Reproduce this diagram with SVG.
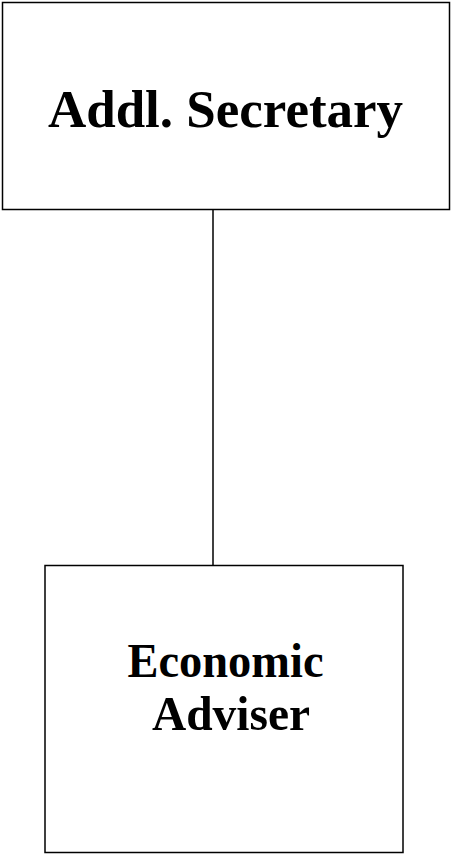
<svg xmlns="http://www.w3.org/2000/svg" width="452" height="855" viewBox="0 0 452 855">
<style>
.box{fill:#fff;stroke:#000;stroke-width:1.5}
.lbl{font-family:"Liberation Serif","Times New Roman",serif;font-weight:bold;fill:#000;text-anchor:middle}
.conn{stroke:#000;stroke-width:1.5;fill:none}
</style>
<rect width="452" height="855" fill="#fff"/>
<g id="connectors">
<line class="conn" x1="213" y1="209.5" x2="213" y2="565.5"/>
</g>
<g id="addl-secretary">
<rect class="box" x="2.5" y="2.5" width="447" height="207"/>
<text class="lbl" x="225.5" y="127" font-size="53">Addl. Secretary</text>
</g>
<g id="economic-adviser">
<rect class="box" x="45" y="565.5" width="358" height="287"/>
<text class="lbl" x="225.5" y="677" font-size="49" textLength="196" lengthAdjust="spacingAndGlyphs">Economic</text>
<text class="lbl" x="231" y="730" font-size="49" textLength="158" lengthAdjust="spacingAndGlyphs">Adviser</text>
</g>
</svg>
